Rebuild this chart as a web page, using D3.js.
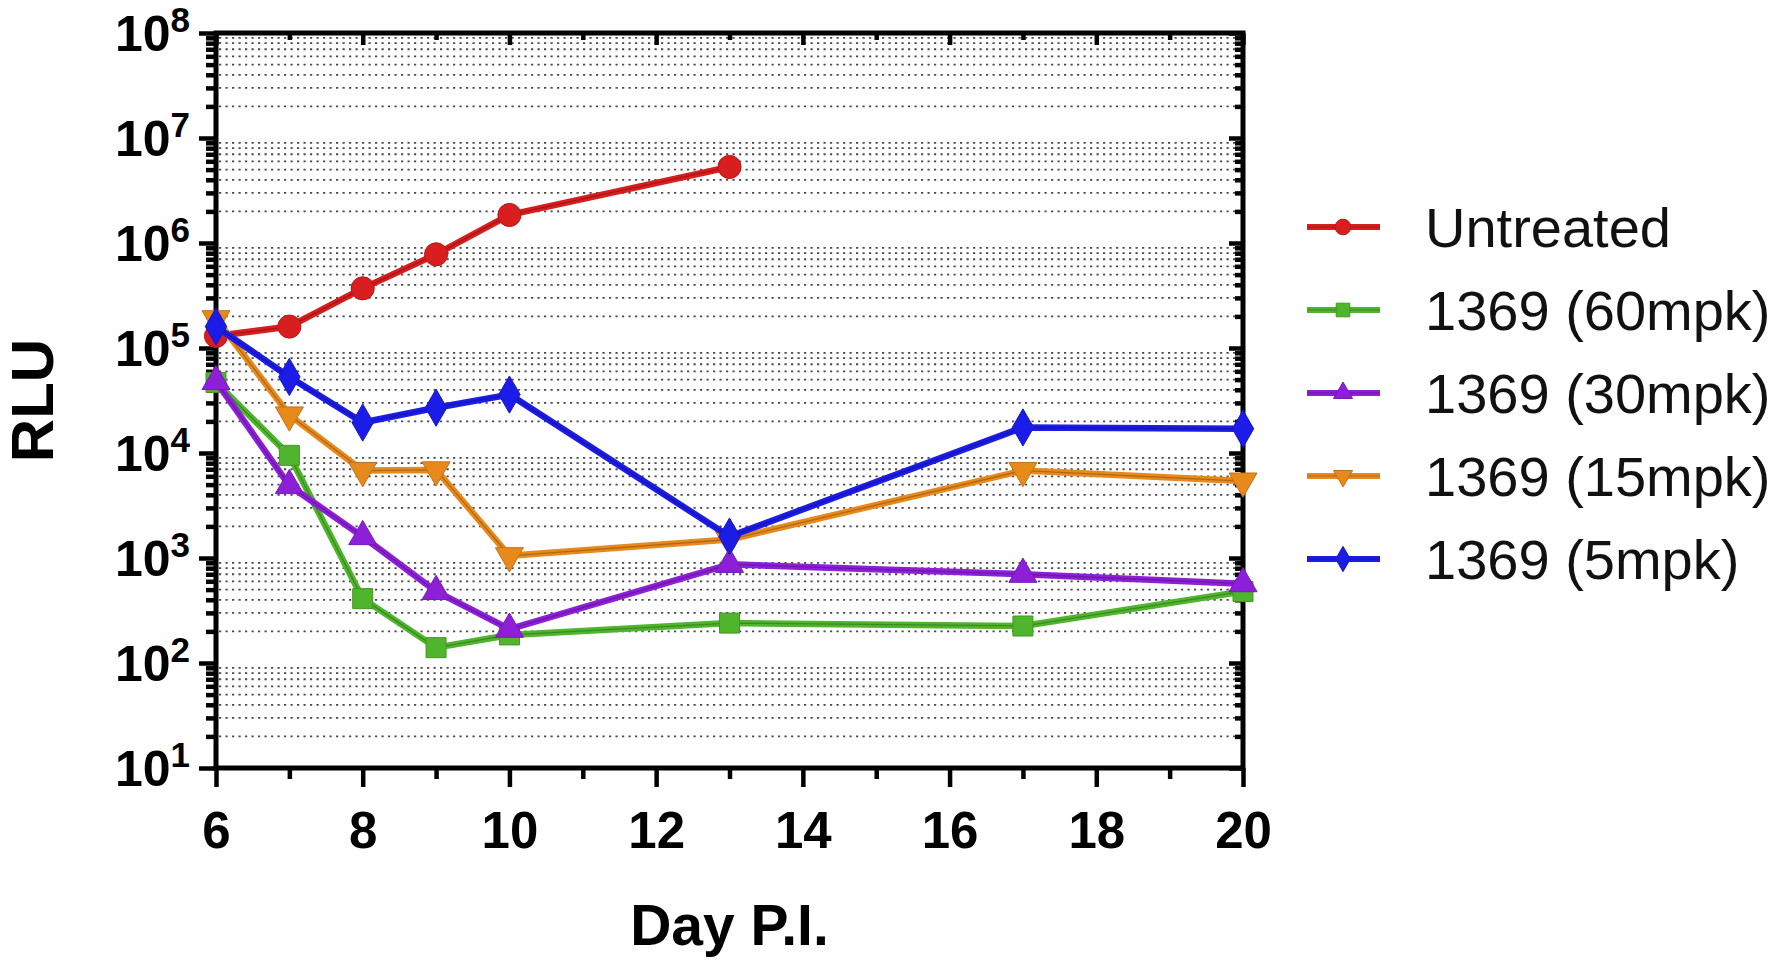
<!DOCTYPE html>
<html>
<head>
<meta charset="utf-8">
<script src="https://cdn.jsdelivr.net/npm/d3@7/dist/d3.min.js"></script>
<style>
  html, body { margin: 0; padding: 0; background: #fff; }
  svg { display: block; }
  text { font-family: "Liberation Sans", Arial, Helvetica, sans-serif; }
</style>
</head>
<body>
<svg id="chart" width="1772" height="967"></svg>
<script>
// ---- Data ----
const untreatedDays = [6, 7, 8, 9, 10, 13];
const treatedDays = [6, 7, 8, 9, 10, 13, 17, 20];

const untreated = [1.3e5, 1.6e5, 3.7e5, 7.8e5, 1.85e6, 5.3e6];
const mpk60 = [4.7e4, 9.5e3, 4.1e2, 1.4e2, 1.85e2, 2.4e2, 2.25e2, 4.8e2];
const mpk30 = [4.8e4, 4.9e3, 1.6e3, 4.8e2, 2.1e2, 8.7e2, 7.0e2, 5.7e2];
const mpk15 = [1.9e5, 2.3e4, 6.8e3, 6.9e3, 1.05e3, 1.5e3, 6.8e3, 5.4e3];
const mpk5 = [1.6e5, 5.3e4, 1.95e4, 2.7e4, 3.6e4, 1.6e3, 1.75e4, 1.7e4];

const seriesNames = ["Untreated", "1369 (60mpk)", "1369 (30mpk)", "1369 (15mpk)", "1369 (5mpk)"];
const seriesColors = ["#d81e1e", "#4fb52c", "#8e1fd9", "#e8891c", "#1c1ce8"];
const seriesShapes = ["circle", "square", "triangle", "triangleDown", "diamond"];

const xTickLabels = [6, 8, 10, 12, 14, 16, 18, 20];
const xMinorTicks = [7, 9, 11, 13, 15, 17, 19];
const yTickExponents = [1, 2, 3, 4, 5, 6, 7, 8];

const xLabel = "Day P.I.";
const yLabel = "RLU";

// ---- Layout ----
const svg = d3.select("#chart");
const pLeft = 216, pRight = 1243, pTop = 33, pBottom = 768;

const x = d3.scaleLinear().domain([6, 20]).range([pLeft, pRight]);
const y = d3.scaleLog().domain([10, 1e8]).range([pBottom, pTop]);

const decades = yTickExponents.map(e => Math.pow(10, e));
const yMinor = y.ticks().filter(v => {
  const l = Math.log10(v);
  return Math.abs(l - Math.round(l)) > 1e-9;
});

// ---- Gridlines (dotted, at minor log values) ----
svg.append("g")
  .selectAll("line")
  .data(yMinor)
  .join("line")
  .attr("x1", pLeft + 3)
  .attr("x2", pRight - 3)
  .attr("y1", d => y(d))
  .attr("y2", d => y(d))
  .attr("stroke", "#4a4a4a")
  .attr("stroke-width", 1.8)
  .attr("stroke-dasharray", "2.2 4.3");

// ---- Axes ----
function styleAxis(g) {
  g.select(".domain").remove();
  g.selectAll(".tick line").attr("stroke", "#000").attr("stroke-width", 4.5);
}

// left axis: major + minor ticks, outward
svg.append("g").attr("transform", `translate(${pLeft},0)`)
  .call(d3.axisLeft(y).tickValues(yMinor).tickSize(10).tickFormat(""))
  .call(styleAxis);
const leftMajor = svg.append("g").attr("transform", `translate(${pLeft},0)`)
  .call(d3.axisLeft(y).tickValues(decades).tickSize(17).tickPadding(9).tickFormat(""))
  .call(styleAxis);
leftMajor.selectAll(".tick text").remove();
leftMajor.selectAll(".tick").each(function(d, i) {
  const t = d3.select(this).append("text")
    .attr("x", -26)
    .attr("y", 17)
    .attr("text-anchor", "end")
    .attr("fill", "#000")
    .style("font-weight", "bold")
    .style("font-size", "50px");
  t.append("tspan").text("10");
  t.append("tspan").attr("dy", -19).style("font-size", "35px").text(yTickExponents[i]);
});

// right axis: inward ticks
svg.append("g").attr("transform", `translate(${pRight},0)`)
  .call(d3.axisLeft(y).tickValues(yMinor).tickSize(8).tickFormat(""))
  .call(styleAxis);
svg.append("g").attr("transform", `translate(${pRight},0)`)
  .call(d3.axisLeft(y).tickValues(decades).tickSize(14).tickFormat(""))
  .call(styleAxis);

// bottom axis: outward ticks
svg.append("g").attr("transform", `translate(0,${pBottom})`)
  .call(d3.axisBottom(x).tickValues(xMinorTicks).tickSize(11).tickFormat(""))
  .call(styleAxis);
const bottomMajor = svg.append("g").attr("transform", `translate(0,${pBottom})`)
  .call(d3.axisBottom(x).tickValues(xTickLabels).tickSize(19).tickPadding(25).tickFormat(d3.format("d")))
  .call(styleAxis);
bottomMajor.selectAll(".tick text")
  .attr("fill", "#000")
  .style("font-weight", "bold")
  .style("font-size", "51px")
  .style("font-family", '"Liberation Sans", Arial, sans-serif');

// top axis: inward ticks
svg.append("g").attr("transform", `translate(0,${pTop})`)
  .call(d3.axisBottom(x).tickValues(xMinorTicks).tickSize(7).tickFormat(""))
  .call(styleAxis);
svg.append("g").attr("transform", `translate(0,${pTop})`)
  .call(d3.axisBottom(x).tickValues(xTickLabels).tickSize(12).tickFormat(""))
  .call(styleAxis);

// frame
svg.append("rect")
  .attr("x", pLeft).attr("y", pTop)
  .attr("width", pRight - pLeft).attr("height", pBottom - pTop)
  .attr("fill", "none").attr("stroke", "#000").attr("stroke-width", 5);

// ---- Axis titles ----
svg.append("text")
  .attr("x", (pLeft + pRight) / 2)
  .attr("y", 945)
  .attr("text-anchor", "middle")
  .style("font-weight", "bold")
  .style("font-size", "57px")
  .text(xLabel);

svg.append("text")
  .attr("transform", `translate(53,${(pTop + pBottom) / 2}) rotate(-90)`)
  .attr("text-anchor", "middle")
  .style("font-weight", "bold")
  .style("font-size", "60px")
  .text(yLabel);

// ---- Series ----
const seriesData = [
  untreatedDays.map((d, i) => [d, untreated[i]]),
  treatedDays.map((d, i) => [d, mpk60[i]]),
  treatedDays.map((d, i) => [d, mpk30[i]]),
  treatedDays.map((d, i) => [d, mpk15[i]]),
  treatedDays.map((d, i) => [d, mpk5[i]])
];

function symbolPath(shape, scale) {
  const s = scale || 1;
  switch (shape) {
    case "circle": return d3.symbol(d3.symbolCircle, 420 * s * s)();
    case "square": return d3.symbol(d3.symbolSquare, 400 * s * s)();
    case "triangle": return d3.symbol(d3.symbolTriangle, 340 * s * s)();
    case "triangleDown": return d3.symbol(d3.symbolTriangle, 340 * s * s)();
    case "diamond": return d3.symbol(d3.symbolDiamond, 400 * s * s)();
  }
}
function symbolRot(shape) { return shape === "triangleDown" ? " rotate(180)" : ""; }

const line = d3.line().x(d => x(d[0])).y(d => y(d[1]));
const plot = svg.append("g");

seriesData.forEach((data, si) => {
  const c = seriesColors[si];
  const g = plot.append("g");
  g.append("path").datum(data)
    .attr("d", line)
    .attr("fill", "none")
    .attr("stroke", c)
    .attr("stroke-width", 6.5)
    .attr("stroke-linejoin", "round");
  g.append("path").datum(data)
    .attr("d", line)
    .attr("fill", "none")
    .attr("stroke", d3.color(c).darker(1.0))
    .attr("stroke-width", 1.3)
    .attr("stroke-opacity", 0.8)
    .attr("stroke-linejoin", "round");
  g.selectAll(".pt").data(data).join("path")
    .attr("class", "pt")
    .attr("transform", d => `translate(${x(d[0])},${y(d[1])})` + symbolRot(seriesShapes[si]))
    .attr("d", symbolPath(seriesShapes[si]))
    .attr("fill", c)
    .attr("stroke", d3.color(c).darker(0.5))
    .attr("stroke-width", 1);
});

// ---- Legend ----
const legend = svg.append("g");
const legY0 = 227, legStep = 83;
seriesNames.forEach((name, i) => {
  const yy = legY0 + i * legStep;
  const c = seriesColors[i];
  legend.append("line")
    .attr("x1", 1307).attr("x2", 1380)
    .attr("y1", yy).attr("y2", yy)
    .attr("stroke", c).attr("stroke-width", 6);
  legend.append("line")
    .attr("x1", 1307).attr("x2", 1380)
    .attr("y1", yy).attr("y2", yy)
    .attr("stroke", d3.color(c).darker(1.0)).attr("stroke-width", 1.2).attr("stroke-opacity", 0.8);
  legend.append("path")
    .attr("transform", `translate(1343,${yy})` + symbolRot(seriesShapes[i]))
    .attr("d", symbolPath(seriesShapes[i], 0.68))
    .attr("fill", c)
    .attr("stroke", d3.color(c).darker(0.5))
    .attr("stroke-width", 1);
  legend.append("text")
    .attr("x", 1425)
    .attr("y", yy + 20)
    .style("font-size", "56px")
    .attr("fill", "#111")
    .text(name);
});
</script>
</body>
</html>
